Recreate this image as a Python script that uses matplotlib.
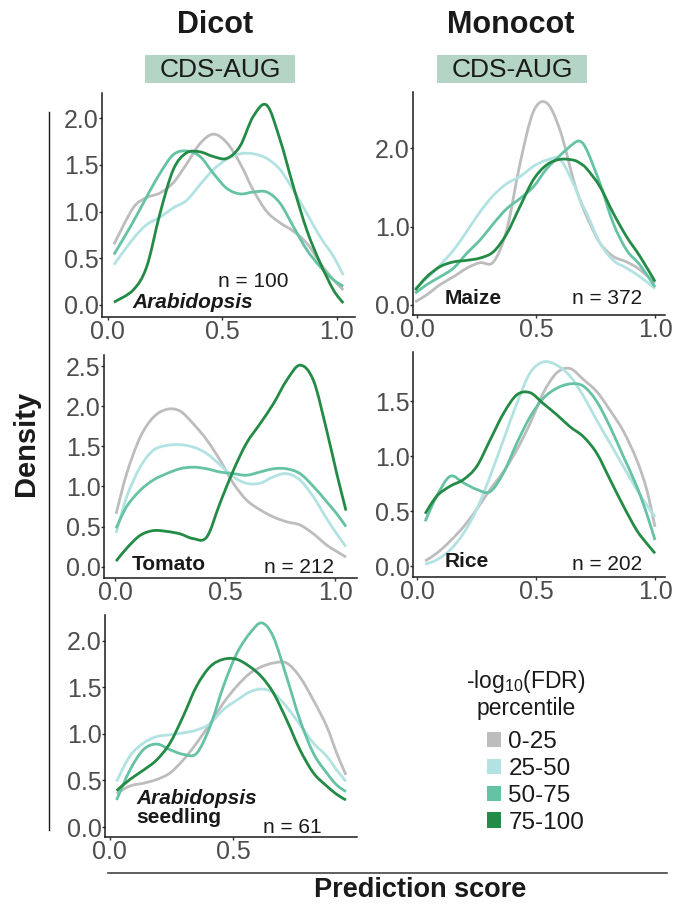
import numpy as np
import matplotlib
matplotlib.use('Agg')
import matplotlib.pyplot as plt
from matplotlib.path import Path
from matplotlib.patches import PathPatch, Patch, Rectangle
from matplotlib.lines import Line2D
from matplotlib.ticker import FormatStrFormatter

plt.rcParams['font.family'] = ['Liberation Sans', 'DejaVu Sans']
plt.rcParams['mathtext.fontset'] = 'custom'
plt.rcParams['mathtext.rm'] = 'Liberation Sans'
plt.rcParams['mathtext.default'] = 'regular'

# -log10(FDR) percentile groups
groups = ['0-25', '25-50', '50-75', '75-100']
colors = ['#bdbdbd', '#b2e2e2', '#66c2a4', '#238b45']

# Arabidopsis (n = 100)
arab_x = [0.027, 0.111, 0.170, 0.228, 0.286, 0.344, 0.403, 0.461, 0.519, 0.577,
          0.635, 0.694, 0.752, 0.810, 0.869, 0.927, 0.985, 1.028]
arab_y = [
    [0.65, 1.04, 1.15, 1.20, 1.31, 1.51, 1.73, 1.83, 1.74, 1.52, 1.23, 1.00, 0.88, 0.79, 0.66, 0.45, 0.27, 0.16],
    [0.43, 0.71, 0.86, 0.94, 1.04, 1.12, 1.29, 1.45, 1.56, 1.62, 1.62, 1.57, 1.45, 1.23, 0.98, 0.73, 0.52, 0.32],
    [0.54, 0.89, 1.16, 1.41, 1.61, 1.65, 1.59, 1.41, 1.25, 1.19, 1.21, 1.21, 1.09, 0.84, 0.59, 0.41, 0.27, 0.20],
    [0.03, 0.16, 0.41, 0.98, 1.45, 1.63, 1.64, 1.59, 1.57, 1.70, 2.02, 2.14, 1.77, 1.27, 0.80, 0.45, 0.16, 0.02],
]

# Maize (n = 372)
maize_x = [-0.008, 0.041, 0.097, 0.153, 0.209, 0.265, 0.321, 0.377, 0.433, 0.489,
           0.545, 0.601, 0.657, 0.685, 0.713, 0.769, 0.825, 0.881, 0.937, 1.0]
maize_y = [
    [0.04, 0.13, 0.26, 0.36, 0.47, 0.54, 0.55, 0.96, 1.81, 2.47, 2.58, 2.23, 1.60, 1.34, 1.13, 0.79, 0.62, 0.55, 0.45, 0.28],
    [0.21, 0.34, 0.51, 0.70, 0.94, 1.19, 1.40, 1.55, 1.64, 1.77, 1.85, 1.86, 1.55, 1.34, 1.17, 0.79, 0.57, 0.47, 0.36, 0.21],
    [0.15, 0.26, 0.36, 0.47, 0.66, 0.83, 1.04, 1.23, 1.36, 1.51, 1.74, 1.91, 2.06, 2.09, 1.98, 1.55, 1.04, 0.70, 0.51, 0.23],
    [0.19, 0.36, 0.49, 0.55, 0.57, 0.60, 0.68, 0.91, 1.26, 1.60, 1.79, 1.86, 1.85, 1.81, 1.74, 1.51, 1.17, 0.87, 0.62, 0.30],
]

# Tomato (n = 212)
tomato_x = [0.005, 0.053, 0.114, 0.174, 0.235, 0.295, 0.356, 0.417, 0.477, 0.538,
            0.598, 0.659, 0.720, 0.780, 0.841, 0.902, 0.962, 1.008, 1.050]
tomato_y = [
    [0.66, 1.16, 1.61, 1.86, 1.96, 1.94, 1.78, 1.58, 1.33, 1.04, 0.83, 0.71, 0.62, 0.56, 0.52, 0.41, 0.27, 0.19, 0.12],
    [0.42, 0.87, 1.24, 1.45, 1.51, 1.52, 1.49, 1.41, 1.27, 1.12, 1.04, 1.04, 1.12, 1.16, 1.08, 0.87, 0.60, 0.41, 0.25],
    [0.48, 0.75, 0.95, 1.08, 1.16, 1.22, 1.24, 1.22, 1.18, 1.16, 1.14, 1.18, 1.22, 1.22, 1.16, 1.00, 0.81, 0.66, 0.50],
    [0.07, 0.23, 0.39, 0.45, 0.44, 0.41, 0.35, 0.37, 0.79, 1.20, 1.54, 1.78, 2.03, 2.32, 2.51, 2.32, 1.70, 1.16, 0.70],
]

# Rice (n = 202)
rice_x = [0.034, 0.083, 0.139, 0.195, 0.251, 0.307, 0.363, 0.419, 0.475, 0.531,
          0.587, 0.643, 0.699, 0.755, 0.811, 0.867, 0.923, 0.965, 1.0]
rice_y = [
    [0.05, 0.12, 0.23, 0.36, 0.52, 0.70, 0.86, 1.06, 1.30, 1.58, 1.76, 1.80, 1.70, 1.59, 1.42, 1.23, 0.97, 0.70, 0.36],
    [0.02, 0.06, 0.15, 0.30, 0.52, 0.82, 1.15, 1.48, 1.76, 1.86, 1.83, 1.73, 1.55, 1.33, 1.12, 0.91, 0.70, 0.56, 0.45],
    [0.41, 0.64, 0.82, 0.76, 0.70, 0.68, 0.85, 1.12, 1.36, 1.53, 1.62, 1.66, 1.64, 1.50, 1.27, 1.00, 0.73, 0.48, 0.24],
    [0.48, 0.64, 0.73, 0.79, 0.91, 1.15, 1.39, 1.56, 1.58, 1.48, 1.38, 1.27, 1.18, 1.03, 0.79, 0.55, 0.33, 0.21, 0.12],
]

# Arabidopsis seedling (n = 61)
seed_x = [0.027, 0.081, 0.136, 0.190, 0.244, 0.298, 0.352, 0.407, 0.461, 0.515,
          0.569, 0.617, 0.664, 0.718, 0.772, 0.827, 0.881, 0.922, 0.959]
seed_y = [
    [0.36, 0.44, 0.47, 0.51, 0.58, 0.72, 0.90, 1.11, 1.33, 1.51, 1.65, 1.72, 1.76, 1.76, 1.61, 1.36, 1.08, 0.79, 0.56],
    [0.49, 0.76, 0.90, 0.97, 0.99, 1.01, 1.04, 1.11, 1.26, 1.36, 1.45, 1.48, 1.44, 1.29, 1.10, 0.90, 0.76, 0.61, 0.49],
    [0.29, 0.61, 0.83, 0.89, 0.83, 0.78, 0.79, 1.08, 1.51, 1.86, 2.08, 2.19, 2.04, 1.61, 1.15, 0.79, 0.58, 0.45, 0.38],
    [0.39, 0.51, 0.61, 0.72, 0.90, 1.19, 1.51, 1.72, 1.80, 1.80, 1.72, 1.61, 1.44, 1.15, 0.83, 0.58, 0.44, 0.35, 0.29],
]

W, H = 679, 905
fig = plt.figure(figsize=(W / 100, H / 100), dpi=100)
DARK = '#1a1a1a'


def px_axes(l, t, r, b):
    return fig.add_axes([l / W, 1 - b / H, (r - l) / W, (b - t) / H])


def smooth_path(x, y):
    # catmull-rom through the read points, drawn as bezier segments
    p = np.column_stack([x, y])
    verts = [p[0]]
    codes = [Path.MOVETO]
    for i in range(len(p) - 1):
        p0 = p[i - 1] if i > 0 else p[i]
        p3 = p[i + 2] if i + 2 < len(p) else p[i + 1]
        verts += [p[i] + (p[i + 1] - p0) / 6, p[i + 1] - (p3 - p[i]) / 6, p[i + 1]]
        codes += [Path.CURVE4] * 3
    return Path(verts, codes)


def panel(rect, x, ys, xlim, ylim, yticks, xticks=(0, 0.5, 1.0)):
    ax = px_axes(*rect)
    for y, c in zip(ys, colors):
        ax.add_patch(PathPatch(smooth_path(x, y), fill=False, edgecolor=c, lw=2.0))
    ax.set_xlim(*xlim)
    ax.set_ylim(*ylim)
    ax.set_xticks(list(xticks))
    ax.set_yticks(yticks)
    ax.xaxis.set_major_formatter(FormatStrFormatter('%.1f'))
    ax.yaxis.set_major_formatter(FormatStrFormatter('%.1f'))
    for s in ['top', 'right']:
        ax.spines[s].set_visible(False)
    for s in ['left', 'bottom']:
        ax.spines[s].set_linewidth(1.1)
        ax.spines[s].set_color(DARK)
    ax.tick_params(labelsize=18, labelcolor='#4d4d4d', length=2, width=1,
                   color='#333333', pad=0.5)
    ax.set_facecolor('none')
    return ax


ax1 = panel((102, 93, 355, 317), arab_x, arab_y, (-0.025, 1.079), (-0.129, 2.271),
            [0, 0.5, 1.0, 1.5, 2.0])
ax2 = panel((413, 92, 665, 315), maize_x, maize_y, (-0.017, 1.042), (-0.128, 2.72),
            [0, 1.0, 2.0])
ax3 = panel((104, 355, 357, 578), tomato_x, tomato_y, (-0.05, 1.10), (-0.14, 2.637),
            [0, 0.5, 1.0, 1.5, 2.0, 2.5])
ax4 = panel((413, 352, 665, 577), rice_x, rice_y, (-0.017, 1.042), (-0.096, 1.95),
            [0, 0.5, 1.0, 1.5])
ax5 = panel((105, 615, 357, 837), seed_x, seed_y, (-0.02, 1.004), (-0.107, 2.275),
            [0, 0.5, 1.0, 1.5, 2.0], xticks=(0, 0.5))

lab = dict(fontsize=15, color=DARK, va='baseline')
ax1.text(0.106, -0.035, 'Arabidopsis', ha='left', fontweight='bold', style='italic', **lab)
ax1.text(0.634, 0.196, 'n = 100', ha='center', **lab)
ax2.text(0.118, 0.013, 'Maize', ha='left', fontweight='bold', **lab)
ax2.text(0.80, 0.013, 'n = 372', ha='center', **lab)
ax3.text(0.076, -0.04, 'Tomato', ha='left', fontweight='bold', **lab)
ax3.text(0.836, -0.08, 'n = 212', ha='center', **lab)
ax4.text(0.118, -0.005, 'Rice', ha='left', fontweight='bold', **lab)
ax4.text(0.80, -0.03, 'n = 202', ha='center', **lab)
ax5.text(0.108, 0.25, 'Arabidopsis', ha='left', fontweight='bold', style='italic', **lab)
ax5.text(0.108, 0.043, 'seedling', ha='left', fontweight='bold', **lab)
ax5.text(0.742, -0.064, 'n = 61', ha='center', **lab)

# column headers
for cx, x0, name in [(215, 145, 'Dicot'), (511, 437, 'Monocot')]:
    fig.text(cx / W, 1 - 25 / H, name, ha='center', va='center', fontsize=22,
             fontweight='bold', color=DARK)
    fig.patches.append(Rectangle((x0 / W, 1 - 83 / H), 150 / W, 28 / H,
                                 transform=fig.transFigure, facecolor='#b4d5c6',
                                 edgecolor='none'))
    fig.text((x0 + 75) / W, 1 - 70 / H, 'CDS-AUG', ha='center', va='center',
             fontsize=19, color=DARK)

# shared axis titles
fig.text(26 / W, 1 - 443 / H, 'Density', rotation=90, ha='center', va='center',
         fontsize=21, fontweight='bold', color=DARK)
fig.add_artist(Line2D([49 / W, 49 / W], [1 - 112 / H, 1 - 830 / H],
                      transform=fig.transFigure, color=DARK, lw=1))
fig.add_artist(Line2D([108 / W, 667 / W], [1 - 873 / H, 1 - 873 / H],
                      transform=fig.transFigure, color='#333333', lw=1.1))
fig.text(420 / W, 1 - 890 / H, 'Prediction score', ha='center', va='center',
         fontsize=19.5, fontweight='bold', color=DARK)

# legend
fig.text(526 / W, 1 - 694 / H, '-log$_{10}$(FDR)\npercentile', ha='center',
         va='center', fontsize=16.5, color=DARK, linespacing=1.1)
handles = [Patch(facecolor=c, edgecolor='none') for c in colors]
fig.legend(handles, groups, loc='upper left', bbox_to_anchor=(487 / W, 1 - 731 / H),
           frameon=False, borderpad=0, borderaxespad=0, fontsize=17.5,
           handlelength=0.58, handleheight=0.58, handletextpad=0.3,
           labelspacing=0.2, labelcolor=DARK)

fig.savefig('out.png', dpi=100)
